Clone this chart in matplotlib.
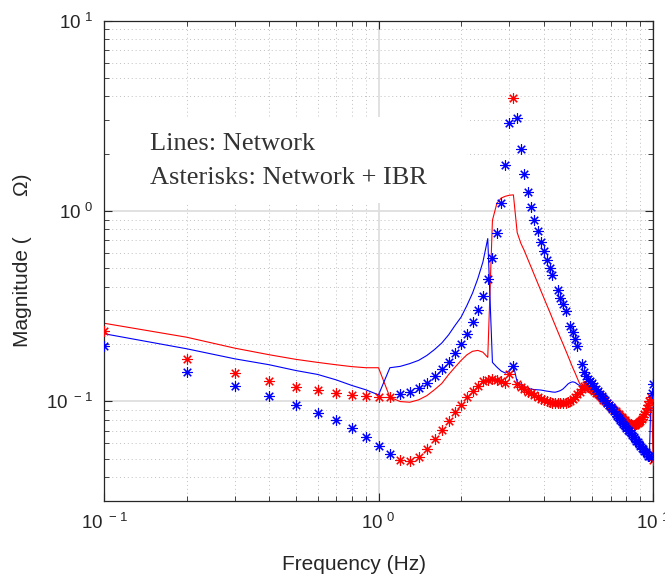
import matplotlib
matplotlib.use("Agg")
import matplotlib.pyplot as plt
from matplotlib.patches import Rectangle
from matplotlib.ticker import FixedLocator, FuncFormatter, LogLocator, NullFormatter
import numpy as np

# frequency grid (Hz)
freq = [0.1, 0.2, 0.3, 0.4, 0.5, 0.6, 0.7, 0.8, 0.9, 1.0,
        1.1, 1.2, 1.3, 1.4, 1.5, 1.6, 1.7, 1.8, 1.9, 2.0,
        2.1, 2.2, 2.3, 2.4, 2.5, 2.6, 2.7, 2.8, 2.9, 3.0,
        3.1, 3.2, 3.3, 3.4, 3.5, 3.6, 3.7, 3.8, 3.9, 4.0,
        4.1, 4.2, 4.3, 4.4, 4.5, 4.6, 4.7, 4.8, 4.9, 5.0,
        5.1, 5.2, 5.3, 5.4, 5.5, 5.6, 5.7, 5.8, 5.9, 6.0,
        6.1, 6.2, 6.3, 6.4, 6.5, 6.6, 6.7, 6.8, 6.9, 7.0,
        7.1, 7.2, 7.3, 7.4, 7.5, 7.6, 7.7, 7.8, 7.9, 8.0,
        8.1, 8.2, 8.3, 8.4, 8.5, 8.6, 8.7, 8.8, 8.9, 9.0,
        9.1, 9.2, 9.3, 9.4, 9.5, 9.6, 9.7, 9.8, 9.9, 10.0]

# network only (lines)
net_red = [0.257, 0.217, 0.190, 0.1755, 0.166, 0.160, 0.1555, 0.152, 0.150, 0.150,
           0.105, 0.0996, 0.0988, 0.1017, 0.107, 0.115, 0.124, 0.138, 0.151, 0.164,
           0.1755, 0.183, 0.185, 0.181, 0.170, 0.893, 1.10, 1.17, 1.195, 1.21,
           1.215, 0.77, 0.676, 0.617, 0.557, 0.505, 0.459, 0.418, 0.382, 0.350,
           0.321, 0.296, 0.272, 0.251, 0.232, 0.215, 0.200, 0.186, 0.173, 0.161,
           0.150, 0.141, 0.132, 0.124, 0.1195, 0.1166, 0.1145, 0.1125, 0.111, 0.110,
           0.108, 0.106, 0.104, 0.102, 0.100, 0.098, 0.0962, 0.0944, 0.0926, 0.0910,
           0.0894, 0.0878, 0.0862, 0.0847, 0.0833, 0.0819, 0.0806, 0.0794, 0.0782, 0.0771,
           0.0762, 0.0754, 0.0748, 0.0744, 0.0742, 0.0743, 0.0747, 0.0754, 0.0764, 0.0777,
           0.0795, 0.0815, 0.0838, 0.0866, 0.0898, 0.0940, 0.0985, 0.103, 0.100, 0.050]

net_blue = [0.2264, 0.1887, 0.167, 0.1555, 0.145, 0.1383, 0.1296, 0.121, 0.1148, 0.108,
            0.150, 0.1525, 0.1577, 0.164, 0.174, 0.187, 0.2023, 0.2233, 0.2503, 0.277,
            0.319, 0.370, 0.441, 0.539, 0.716, 0.160, 0.151, 0.144, 0.1406, 0.145,
            0.154, 0.126, 0.1227, 0.1195, 0.117, 0.1157, 0.1152, 0.1148, 0.1145, 0.1138,
            0.1130, 0.1125, 0.1118, 0.1115, 0.1125, 0.1138, 0.116, 0.1195, 0.1233, 0.1255,
            0.1265, 0.1255, 0.123, 0.121, 0.118, 0.1157, 0.1140, 0.1125, 0.1110, 0.1095,
            0.1075, 0.1055, 0.1035, 0.1015, 0.0995, 0.0975, 0.0955, 0.0935, 0.0915, 0.0898,
            0.0880, 0.0862, 0.0845, 0.0828, 0.0810, 0.0793, 0.0776, 0.0759, 0.0742, 0.0726,
            0.0709, 0.0694, 0.0678, 0.0663, 0.0649, 0.0635, 0.0621, 0.0608, 0.0595, 0.0583,
            0.0571, 0.0560, 0.0549, 0.0538, 0.0527, 0.0518, 0.0514, 0.0917, 0.092, 0.092]

# network + IBR (asterisks)
ibr_red = [0.2327, 0.1664, 0.1403, 0.127, 0.1185, 0.1139, 0.1102, 0.108, 0.1062, 0.1055,
           0.1055, 0.0493, 0.0487, 0.0511, 0.0564, 0.0634, 0.071, 0.0791, 0.0875, 0.0961,
           0.105, 0.1129, 0.120, 0.127, 0.130, 0.1311, 0.1295, 0.127, 0.124, 0.1395,
           3.905, 0.1235, 0.1185, 0.1154, 0.1125, 0.110, 0.1073, 0.1053, 0.1033, 0.1013,
           0.100, 0.0989, 0.0983, 0.0977, 0.0975, 0.0975, 0.0977, 0.0983, 0.0995, 0.1006,
           0.1025, 0.1053, 0.1085, 0.1125, 0.1166, 0.1204, 0.1212, 0.1195, 0.117, 0.1154,
           0.1132, 0.111, 0.1087, 0.1065, 0.1043, 0.1021, 0.0999, 0.0978, 0.0958, 0.0938,
           0.0921, 0.0904, 0.0888, 0.0872, 0.0856, 0.0841, 0.0826, 0.0811, 0.0796, 0.0782,
           0.0773, 0.0763, 0.0757, 0.0754, 0.0752, 0.0754, 0.0760, 0.0768, 0.0779, 0.0791,
           0.0811, 0.0831, 0.0855, 0.0883, 0.0916, 0.0961, 0.100, 0.105, 0.1027, 0.049]

ibr_blue = [0.194, 0.1433, 0.1205, 0.1062, 0.0961, 0.0872, 0.0794, 0.0721, 0.0652, 0.0582,
            0.0528, 0.1094, 0.1115, 0.117, 0.125, 0.1355, 0.1469, 0.161, 0.179, 0.1988,
            0.2244, 0.2596, 0.300, 0.357, 0.4406, 0.569, 0.766, 1.102, 1.74, 2.904,
            0.1525, 3.064, 2.112, 1.566, 1.254, 1.049, 0.901, 0.785, 0.687, 0.616,
            0.55, 0.501, 0.459, None, 0.383, 0.35, 0.323, 0.298, None, 0.25,
            0.231, 0.213, 0.195, None, 0.157, 0.1426, 0.136, 0.131, 0.127, 0.1240,
            0.1201, 0.1165, 0.1132, 0.1098, 0.1068, 0.1037, 0.1009, 0.0982, 0.0955, 0.0930,
            0.0906, 0.0884, 0.0861, 0.0840, 0.0819, 0.0799, 0.0780, 0.0762, 0.0743, 0.0726,
            0.0709, 0.0694, 0.0678, 0.0663, 0.0649, 0.0635, 0.0621, 0.0608, 0.0595, 0.0583,
            0.0571, 0.0560, 0.0549, 0.0538, 0.0527, 0.0518, 0.0514, 0.0511, 0.110, 0.1235]

ibr_blue = np.array(ibr_blue, dtype=float)  # None -> nan (points not visible)

plt.rcParams["font.family"] = ["Liberation Sans", "DejaVu Sans"]
plt.rcParams["mathtext.default"] = "regular"

fig = plt.figure(figsize=(6.65, 5.78), dpi=100)
ax = fig.add_axes([0.1564, 0.1337, 0.8256, 0.8305])

star = (8, 2, 0)
ax.plot(freq, net_red, color="red", linewidth=0.8, zorder=2)
ax.plot(freq, net_blue, color="blue", linewidth=0.8, zorder=2)
ax.plot(freq, ibr_red, linestyle="none", marker=star, markersize=7.5,
        markeredgewidth=0.8, color="red", zorder=3)
ax.plot(freq, ibr_blue, linestyle="none", marker=star, markersize=7.5,
        markeredgewidth=0.8, color="blue", zorder=3)

ax.set_xscale("log")
ax.set_yscale("log")
ax.set_xlim(0.1, 10)
ax.set_ylim(0.03, 10)

def pow_label(v, pos):
    return r"$\mathregular{10^{\ %d}}$" % int(round(np.log10(v)))

for axis in (ax.xaxis, ax.yaxis):
    axis.set_major_locator(FixedLocator([0.1, 1, 10]))
    axis.set_major_formatter(FuncFormatter(pow_label))
    axis.set_minor_locator(LogLocator(base=10, subs=np.arange(2, 10)))
    axis.set_minor_formatter(NullFormatter())

ax.tick_params(which="both", direction="in", top=True, right=True,
               colors="#262626", labelsize=13.5)
ax.tick_params(which="major", length=6, width=0.8)
ax.tick_params(which="minor", length=3.5, width=0.6)
ax.tick_params(axis="x", pad=9)
ax.tick_params(axis="y", pad=8)
for s in ax.spines.values():
    s.set_color("#262626")
    s.set_linewidth(0.9)

ax.set_axisbelow(True)
ax.grid(True, which="major", color="#dedede", linewidth=1.3, linestyle="-")
ax.grid(True, which="minor", color="#c0c0c0", linewidth=0.7, linestyle=(0, (1, 3)))

# white box behind the annotation
ax.add_patch(Rectangle((0.011, 0.62), 0.65, 0.179, transform=ax.transAxes,
                       facecolor="white", edgecolor="none", zorder=1))
ax.text(0.0838, 0.7306, "Lines: Network", transform=ax.transAxes,
        family="Liberation Serif", fontsize=19, color="#333333", va="baseline", zorder=4)
ax.text(0.0838, 0.66, "Asterisks: Network + IBR", transform=ax.transAxes,
        family="Liberation Serif", fontsize=19, color="#333333", va="baseline", zorder=4)

ax.set_xlabel("Frequency (Hz)", fontsize=15, color="#262626", va="top")
ax.xaxis.set_label_coords(0.455, -0.113)
ax.set_ylabel("Magnitude (       \u03a9)", fontsize=15, color="#262626")
ax.yaxis.set_label_coords(-0.131, 0.5)

fig.savefig("out.png", dpi=100)
